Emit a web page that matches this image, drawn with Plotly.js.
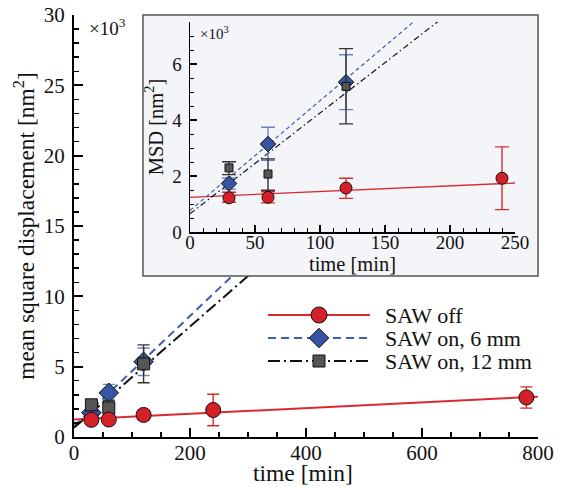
<!DOCTYPE html>
<html>
<head>
<meta charset="utf-8">
<script src="https://cdn.plot.ly/plotly-3.0.1.min.js"></script>
<style>html,body{margin:0;padding:0;background:#fff}#chart{width:563px;height:487px}</style>
</head>
<body>
<div id="chart"></div>
<script>
// ---- data (values in units of 10^3 nm^2, time in min) ----
const offTime = [30, 60, 120, 240, 780];
const offMSD = [1.22, 1.24, 1.57, 1.92, 2.81];
const offErrPlus = [0.2, 0.2, 0.35, 1.12, 0.75];
const offErrMinus = [0.16, 0.2, 0.37, 1.12, 0.76];

const on6Time = [30, 60, 120];
const on6MSD = [1.73, 3.14, 5.35];
const on6ErrPlus = [0.2, 0.6, 0.98];
const on6ErrMinus = [0.2, 0.58, 0.98];

const on12Time = [30, 60, 120];
const on12MSD = [2.29, 2.07, 5.2];
const on12ErrPlus = [0.22, 0.54, 1.35];
const on12ErrMinus = [0.24, 0.58, 1.34];

// fitted straight lines (endpoints)
const fitTime = [0, 800];
const offFit = [1.24, 2.87];
const on6Fit = [0.77, 32.1];
const on12Fit = [0.65, 29.45];

const legendLabels = ["SAW off", "SAW on, 6 mm", "SAW on, 12 mm"];
const legendRows = [0, 1, 2];

// ---- styles ----
const FONT = "Liberation Serif";
const RED = "#d5202a", BLUE = "#3753a3", GRAY = "#555555";
const RED_LINE = "#d92a30", BLUE_LINE = "#3f5cae";

function fitTrace(y, color, dash, width, xa, ya) {
  return {x: fitTime, y: y, mode: "lines", xaxis: xa, yaxis: ya, showlegend: false,
          line: {color: color, dash: dash, width: width}, hoverinfo: "skip"};
}
function ptTrace(x, y, ep, em, sym, size, fill, ecolor, ewidth, xa, ya) {
  return {x: x, y: y, mode: "markers", xaxis: xa, yaxis: ya, showlegend: false,
          marker: {symbol: sym, size: size, color: fill, line: {color: "#111", width: 1}},
          error_y: {type: "data", array: ep, arrayminus: em, color: ecolor, thickness: 1.4, width: ewidth, visible: true}};
}

const traces = [
  // main
  fitTrace(offFit, RED_LINE, "solid", 2, "x", "y"),
  fitTrace(on6Fit, BLUE_LINE, "8px,5px", 2, "x", "y"),
  fitTrace(on12Fit, "#111", "12px,4px,2px,4px", 2, "x", "y"),
  ptTrace(on6Time, on6MSD, on6ErrPlus, on6ErrMinus, "diamond", 15, BLUE, "#6f82c4", 6, "x", "y"),
  ptTrace(on12Time, on12MSD, on12ErrPlus, on12ErrMinus, "square", 12, GRAY, "#333", 6, "x", "y"),
  ptTrace(offTime, offMSD, offErrPlus, offErrMinus, "circle", 15, RED, RED_LINE, 6, "x", "y"),
  // inset background holder
  {x: [], y: [], xaxis: "x2", yaxis: "y2", showlegend: false, mode: "markers"},
  // inset
  fitTrace(offFit, RED_LINE, "solid", 1.3, "x3", "y3"),
  fitTrace(on6Fit, BLUE_LINE, "4px,3px", 1.2, "x3", "y3"),
  fitTrace(on12Fit, "#111", "6px,3px,1.5px,3px", 1.2, "x3", "y3"),
  ptTrace(on6Time, on6MSD, on6ErrPlus, on6ErrMinus, "diamond", 12, BLUE, "#6f82c4", 7, "x3", "y3"),
  ptTrace(on12Time, on12MSD, on12ErrPlus, on12ErrMinus, "square", 8, GRAY, "#333", 7, "x3", "y3"),
  ptTrace(offTime, offMSD, offErrPlus, offErrMinus, "circle", 12, RED, RED_LINE, 7, "x3", "y3"),
];

// legend samples on a hidden axis pair
const legStyles = [
  {color: RED_LINE, dash: "solid", sym: "circle", size: 16, fill: RED},
  {color: BLUE_LINE, dash: "8px,5px", sym: "diamond", size: 15, fill: BLUE},
  {color: "#111", dash: "12px,4px,2px,4px", sym: "square", size: 12, fill: GRAY}
];
legendRows.forEach((r, i) => {
  const s = legStyles[i];
  traces.push({x: [0, 1], y: [r, r], mode: "lines", xaxis: "x4", yaxis: "y4", showlegend: false,
               line: {color: s.color, dash: s.dash, width: 2}, hoverinfo: "skip"});
  traces.push({x: [0.5], y: [r], mode: "markers", xaxis: "x4", yaxis: "y4", showlegend: false,
               marker: {symbol: s.sym, size: s.size, color: s.fill, line: {color: "#111", width: 1}}});
});

const H = 487, W = 563;
const px = v => v / W, py = v => (H - v) / H;

function axisBase(extra) {
  return Object.assign({showgrid: false, zeroline: false, showline: true, linecolor: "#000",
    ticks: "inside", tickcolor: "#000", mirror: false}, extra);
}

const layout = {
  width: W, height: H,
  margin: {l: 0, r: 0, t: 0, b: 0},
  paper_bgcolor: "#fff", plot_bgcolor: "#fff",
  showlegend: false,
  font: {family: FONT, color: "#111"},
  xaxis: axisBase({domain: [px(74), px(538)], range: [0, 800], anchor: "y", linewidth: 2,
    tick0: 0, dtick: 200, ticklen: 9, tickwidth: 2,
    minor: {dtick: 50, ticklen: 5, tickwidth: 1.5, ticks: "inside", tickcolor: "#000"},
    tickfont: {family: FONT, size: 21, color: "#111"}, ticklabelstandoff: -4}),
  yaxis: axisBase({domain: [py(437), py(15)], range: [0, 30], anchor: "x", linewidth: 2,
    tick0: 0, dtick: 5, ticklen: 9, tickwidth: 2,
    minor: {dtick: 1, ticklen: 5, tickwidth: 1.5, ticks: "inside", tickcolor: "#000"},
    tickfont: {family: FONT, size: 21, color: "#111"}, ticklabelstandoff: 3,
    title: {text: "mean square displacement [nm<sup>2</sup>]", font: {family: FONT, size: 23.5, color: "#111"}, standoff: 3}}),
  xaxis2: {domain: [px(143), px(538)], range: [0, 1], anchor: "y2", visible: false, fixedrange: true},
  yaxis2: {domain: [py(276), py(15)], range: [0, 1], anchor: "x2", visible: false, fixedrange: true},
  xaxis3: axisBase({domain: [px(190), px(515)], range: [0, 250], anchor: "y3", linewidth: 1.5,
    tick0: 0, dtick: 50, ticklen: 7, tickwidth: 1.3,
    minor: {dtick: 10, ticklen: 4, tickwidth: 1, ticks: "inside", tickcolor: "#000"},
    tickfont: {family: FONT, size: 19, color: "#111"}, ticklabelstandoff: -7,
    title: {text: "time [min]", font: {family: FONT, size: 20.5, color: "#111"}, standoff: 0}}),
  yaxis3: axisBase({domain: [py(232), py(22)], range: [0, 7.5], anchor: "x3", linewidth: 1.5,
    tick0: 0, dtick: 2, ticklen: 7, tickwidth: 1.3,
    minor: {dtick: 0.5, ticklen: 4, tickwidth: 1, ticks: "inside", tickcolor: "#000"},
    tickfont: {family: FONT, size: 19, color: "#111"}, ticklabelstandoff: 3,
    title: {text: "MSD [nm<sup>2</sup>]", font: {family: FONT, size: 20.5, color: "#111"}, standoff: 3}}),
  xaxis4: {domain: [px(268), px(370)], range: [0, 1], anchor: "y4", visible: false, fixedrange: true},
  yaxis4: {domain: [py(372.5), py(303.5)], range: [2.5, -0.5], anchor: "x4", visible: false, fixedrange: true},
  shapes: [
    {type: "rect", xref: "x2", yref: "y2", x0: 0, x1: 1, y0: 0, y1: 1, layer: "below",
     fillcolor: "#f4f5f8", line: {color: "#f4f5f8", width: 0}},
    {type: "rect", xref: "x3", yref: "y3", x0: 0, x1: 250, y0: 0, y1: 7.5, layer: "below",
     fillcolor: "#f4f5f8", line: {width: 0}},
    {type: "rect", xref: "paper", yref: "paper", x0: px(143), x1: px(538), y0: py(276), y1: py(15), layer: "above",
     fillcolor: "rgba(0,0,0,0)", line: {color: "#555", width: 1.5}}
  ],
  annotations: [
    {xref: "paper", yref: "paper", x: px(303), y: py(473), xanchor: "center", yanchor: "middle", showarrow: false,
     text: "time [min]", font: {family: FONT, size: 23.5, color: "#111"}},
    {xref: "paper", yref: "paper", x: px(87), y: py(27), xanchor: "left", yanchor: "middle", showarrow: false,
     text: "×10<sup>3</sup>", font: {family: FONT, size: 19, color: "#111"}},
    {xref: "paper", yref: "paper", x: px(198), y: py(33), xanchor: "left", yanchor: "middle", showarrow: false,
     text: "×10<sup>3</sup>", font: {family: FONT, size: 15, color: "#111"}}
  ].concat(legendLabels.map((t, i) => ({xref: "paper", yref: "y4", x: px(383), y: legendRows[i],
     xanchor: "left", yanchor: "middle", showarrow: false, text: t,
     font: {family: FONT, size: 22, color: "#111"}})))
};

Plotly.newPlot("chart", traces, layout, {displayModeBar: false, staticPlot: true});
</script>
</body>
</html>
